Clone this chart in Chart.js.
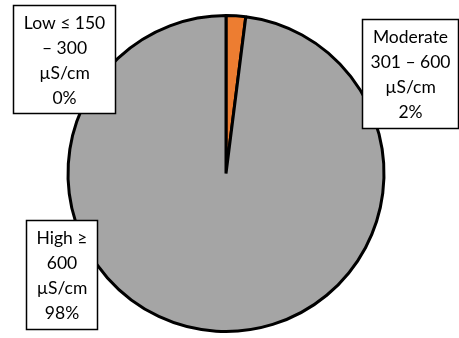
<!DOCTYPE html>
<html>
<head>
<meta charset="utf-8">
<script src="https://cdn.jsdelivr.net/npm/chart.js@4"></script>
<style>
  html, body { margin: 0; padding: 0; background: #fff; }
  #wrap { width: 459px; height: 338px; }
</style>
</head>
<body>
<div id="wrap"><canvas id="mycanvas" width="459" height="338"></canvas></div>
<script>
var categories = ["Low ≤ 150 – 300 µS/cm", "Moderate 301 – 600 µS/cm", "High ≥ 600 µS/cm"];
var percents = [0, 2, 98];
var colors = ["#4472C4", "#ED7D31", "#A5A5A5"];

// label text lines for each slice, and where its box sits (fractions of the canvas)
var labelLines = [
  ["Low ≤ 150", "– 300", "µS/cm"],
  ["Moderate", "301 – 600", "µS/cm"],
  ["High ≥", "600", "µS/cm"]
];
var boxes = [
  { cx: 0.139, top: 0.015, w: 102, h: 108 },
  { cx: 0.893, top: 0.056, w: 96, h: 109 },
  { cx: 0.134, top: 0.651, w: 71, h: 109 }
];

var labelBoxes = {
  id: "labelBoxes",
  afterDraw: function(chart) {
    var ctx = chart.ctx;
    ctx.save();
    ctx.font = "17.5px Lato, 'Open Sans', sans-serif";
    ctx.textAlign = "center";
    ctx.textBaseline = "middle";
    for (var i = 0; i < boxes.length; i++) {
      var b = boxes[i];
      var x = Math.round(b.cx * chart.width - b.w / 2) + 0.5;
      var y = Math.round(b.top * chart.height) + 0.5;
      ctx.fillStyle = "#fff";
      ctx.fillRect(x, y, b.w, b.h);
      ctx.strokeStyle = "#000";
      ctx.lineWidth = 1.5;
      ctx.strokeRect(x, y, b.w, b.h);
      var lines = labelLines[i].concat([percents[i] + "%"]);
      ctx.fillStyle = "#000";
      for (var j = 0; j < lines.length; j++) {
        ctx.fillText(lines[j], x + b.w / 2, y + 18 + j * 25);
      }
    }
    ctx.restore();
  }
};

var ctx = document.getElementById("mycanvas");
var PieGraph = new Chart(ctx, {
  type: "pie",
  data: {
    labels: categories,
    datasets: [{
      data: percents,
      backgroundColor: colors,
      borderColor: "#000",
      borderWidth: 3
    }]
  },
  options: {
    responsive: false,
    animation: false,
    layout: { padding: { top: 14, bottom: 5, left: 0, right: 7 } },
    plugins: {
      legend: { display: false },
      tooltip: { enabled: false }
    }
  },
  plugins: [labelBoxes]
});
</script>
</body>
</html>
